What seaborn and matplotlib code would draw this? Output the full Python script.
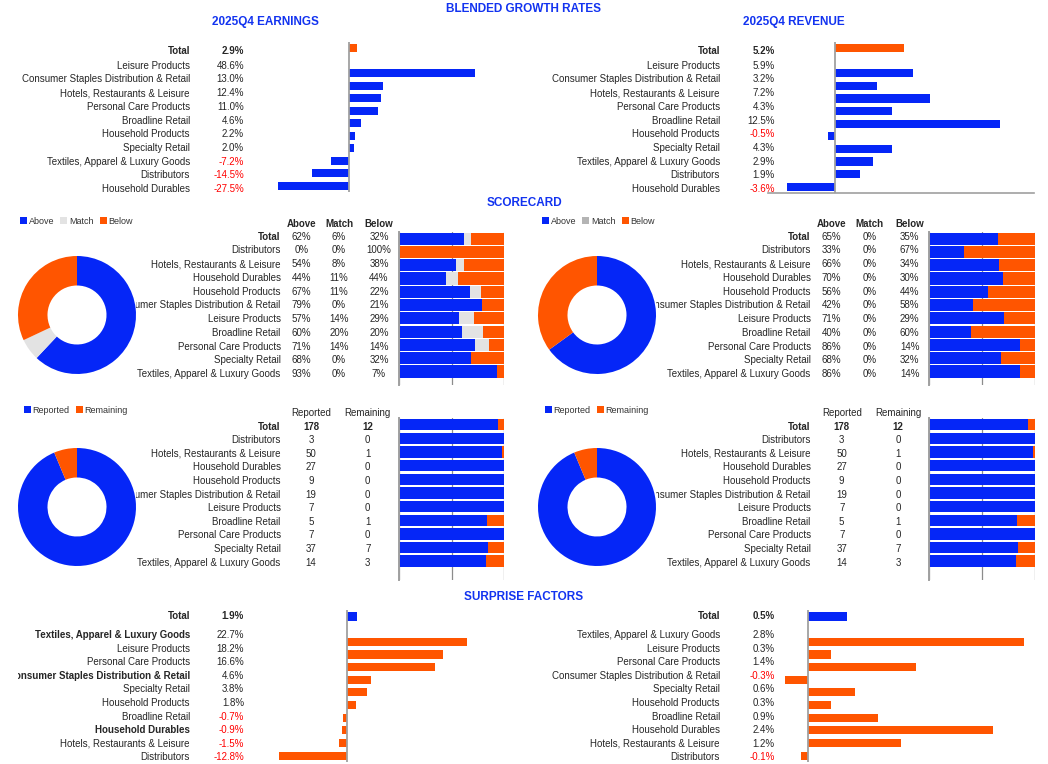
import matplotlib
matplotlib.use("Agg")
from matplotlib import pyplot as plt
from matplotlib.patches import Patch
from matplotlib.transforms import Bbox, TransformedBbox
import pandas as pd
import seaborn as sns

# ---- data ----
growth_names = ["Total", "Leisure Products", "Consumer Staples Distribution & Retail",
                "Hotels, Restaurants & Leisure", "Personal Care Products",
                "Broadline Retail", "Household Products", "Specialty Retail",
                "Textiles, Apparel & Luxury Goods", "Distributors", "Household Durables"]
earnings_growth = [2.9, 48.6, 13.0, 12.4, 11.0, 4.6, 2.2, 2.0, -7.2, -14.5, -27.5]
revenue_growth = [5.2, 5.9, 3.2, 7.2, 4.3, 12.5, -0.5, 4.3, 2.9, 1.9, -3.6]

score_names = ["Total", "Distributors", "Hotels, Restaurants & Leisure",
               "Household Durables", "Household Products",
               "Consumer Staples Distribution & Retail", "Leisure Products",
               "Broadline Retail", "Personal Care Products", "Specialty Retail",
               "Textiles, Apparel & Luxury Goods"]
eps_above = [62, 0, 54, 44, 67, 79, 57, 60, 71, 68, 93]
eps_match = [6, 0, 8, 11, 11, 0, 14, 20, 14, 0, 0]
eps_below = [32, 100, 38, 44, 22, 21, 29, 20, 14, 32, 7]
rev_above = [65, 33, 66, 70, 56, 42, 71, 40, 86, 68, 86]
rev_match = [0, 0, 0, 0, 0, 0, 0, 0, 0, 0, 0]
rev_below = [35, 67, 34, 30, 44, 58, 29, 60, 14, 32, 14]

reported = [178, 3, 50, 27, 9, 19, 7, 5, 7, 37, 14]
remaining = [12, 0, 1, 0, 0, 0, 0, 1, 0, 7, 3]

surprise_names = ["Total", "Textiles, Apparel & Luxury Goods", "Leisure Products",
                  "Personal Care Products", "Consumer Staples Distribution & Retail",
                  "Specialty Retail", "Household Products", "Broadline Retail",
                  "Household Durables", "Hotels, Restaurants & Leisure", "Distributors"]
eps_surprise = [1.9, 22.7, 18.2, 16.6, 4.6, 3.8, 1.8, -0.7, -0.9, -1.5, -12.8]
rev_surprise = [0.5, 2.8, 0.3, 1.4, -0.3, 0.6, 0.3, 0.9, 2.4, 1.2, -0.1]
eps_surprise_bold = ["Total", "Textiles, Apparel & Luxury Goods",
                     "Consumer Staples Distribution & Retail", "Household Durables"]

# ---- style ----
W, H = 1048, 764
BLUE = '#0526F7'
ORANGE = '#FF5500'
TITLE = '#1233F0'
TXT = '#262626'
RED = '#FF0000'
GRID = '#A0A0A0'

sns.set_style("white")
plt.rcParams['font.family'] = ['Liberation Sans', 'DejaVu Sans']
plt.rcParams['font.size'] = 7

fig = plt.figure(figsize=(W / 100, H / 100), dpi=100)


def add_box(x0, y0, x1, y1):
    # axes placed in pixel coordinates (y from the top)
    return fig.add_axes([x0 / W, 1 - y1 / H, (x1 - x0) / W, (y1 - y0) / H])


def put(x, y, s, clip_left=None, **kw):
    kw.setdefault('color', TXT)
    t = fig.text(x / W, 1 - y / H, s, va='center', **kw)
    if clip_left is not None:
        t.set_clip_box(TransformedBbox(Bbox.from_extents(clip_left / W, 0, 1, 1),
                                       fig.transFigure))
        t.set_clip_on(True)
    return t


def clean(ax):
    ax.set(xlabel='', ylabel='')
    ax.tick_params(length=0, labelbottom=False, labelleft=False)
    for s in ax.spines.values():
        s.set_visible(False)
    ax.patch.set_alpha(0)


def growth_panel(names, values, colors, lab_x, val_x, rows, box, zero_px, ppu,
                 bold=("Total",), bottom=False):
    for name, v, y in zip(names, values, rows):
        put(lab_x, y, name, ha='right', clip_left=18,
            weight='bold' if name in bold else 'normal')
        put(val_x, y, "{:.1f}%".format(v), ha='right',
            weight='bold' if name == "Total" else 'normal',
            color=RED if v < 0 else TXT)
    x0, y0, x1, y1 = box
    ax = add_box(x0, y0, x1, y1)
    df = pd.DataFrame({'sector': names, 'value': values})
    order = [names[0], ' '] + names[1:]
    sns.barplot(data=df, x='value', y='sector', hue='sector', order=order,
                palette=dict(zip(names, colors)), orient='h', width=0.64,
                saturation=1, errorbar=None, legend=False, linewidth=0, ax=ax)
    ax.set_xlim((x0 - zero_px) / ppu, (x1 - zero_px) / ppu)
    ax.set_ylim(len(order) - 0.5, -0.5)
    ax.axvline(0, color=GRID, lw=1.3)
    clean(ax)
    if bottom:
        ax.spines['bottom'].set_visible(True)
        ax.spines['bottom'].set_color(GRID)
        ax.spines['bottom'].set_linewidth(1.2)


def share_panel(names, cols, labels, colors, lab_x, col_x, head_y, rows, fmt,
                head_weight, total_weight, box, c0, step, bar_w, donut, legend_x):
    # table text
    for lab, cx in zip(labels, col_x):
        put(cx, head_y, lab, ha='center', weight=head_weight)
    for i, (name, y) in enumerate(zip(names, rows)):
        put(lab_x, y, name, ha='right', clip_left=donut[0] + donut[2],
            weight='bold' if name == "Total" else 'normal')
        for vals, cx in zip(cols, col_x):
            put(cx, y, fmt.format(vals[i]), ha='center',
                weight=total_weight if name == "Total" else 'normal')

    # stacked 100% bars
    df = pd.DataFrame(dict(zip(labels, cols)), index=names)
    pct = df.div(df.sum(axis=1), axis=0) * 100
    cum = pct.cumsum(axis=1)
    x0, x1, y1 = box
    ax = add_box(x0, c0 - step / 2, x1, y1)
    for lab, col in zip(labels[::-1], colors[::-1]):
        sns.barplot(x=cum[lab].values, y=names, order=names, orient='h',
                    color=col, width=bar_w, saturation=1, errorbar=None,
                    linewidth=0, ax=ax)
    ax.set_xlim(0, 100)
    ax.set_ylim((y1 - c0) / step, -0.5)
    ax.set_xticks([0, 50, 100])
    ax.set_axisbelow(True)
    ax.grid(axis='x', color='#8C8C8C', lw=0.9)
    clean(ax)
    ax.spines['left'].set_visible(True)
    ax.spines['left'].set_color(GRID)
    ax.spines['left'].set_linewidth(1.4)

    # donut of the Total row
    cx, cy, r = donut
    dax = add_box(cx - r, cy - r, cx + r, cy + r)
    dax.pie([c[0] for c in cols], colors=colors, startangle=90, counterclock=False,
            radius=1, wedgeprops=dict(width=0.5, linewidth=0))
    dax.set_xlim(-1, 1)
    dax.set_ylim(-1, 1)
    dax.axis('off')

    # legend
    handles = [Patch(facecolor=c, edgecolor='none') for c in colors]
    fig.legend(handles, labels, loc='center left',
               bbox_to_anchor=(legend_x / W, 1 - (head_y - 2.5) / H),
               ncol=len(labels), frameon=False, fontsize=6.5, labelcolor='#333333',
               handlelength=0.75, handleheight=0.75, handletextpad=0.2,
               columnspacing=0.7, borderaxespad=0, borderpad=0)


# ---- titles ----
put(524, 9, "BLENDED GROWTH RATES", ha='center', weight='bold', size=8.5, color=TITLE)
put(265, 22, "2025Q4 EARNINGS", ha='center', weight='bold', size=8.5, color=TITLE)
put(794, 22, "2025Q4 REVENUE", ha='center', weight='bold', size=8.5, color=TITLE)
put(524, 203, "SCORECARD", ha='center', weight='bold', size=8.5, color=TITLE)
put(524, 597, "SURPRISE FACTORS", ha='center', weight='bold', size=8.5, color=TITLE)

# ---- growth rates ----
top_rows = [50.7] + [65.7 + 13.7 * i for i in range(10)]
growth_colors = [ORANGE] + [BLUE] * 10
growth_panel(growth_names, earnings_growth, growth_colors, 190, 244, top_rows,
             (270, 41.75, 500, 191.75), 349.3, 2.58)
growth_panel(growth_names, revenue_growth, growth_colors, 720, 774.7, top_rows,
             (768, 41.75, 1034, 193), 835, 13.2, bottom=True)

# ---- scorecard ----
score_rows = [236.7 + 13.73 * i for i in range(11)]
share_panel(score_names, [eps_above, eps_match, eps_below], ["Above", "Match", "Below"],
            [BLUE, '#E3E3E3', ORANGE], 280.7, [301.7, 339, 379], 223.7, score_rows,
            "{}%", 'bold', 'normal', (399, 504.3, 385), 238.7, 13.28, 0.92,
            (77, 315, 59), 20)
share_panel(score_names, [rev_above, rev_match, rev_below], ["Above", "Match", "Below"],
            [BLUE, '#B4B4B4', ORANGE], 810.7, [831.3, 869.7, 909.7], 223.7, score_rows,
            "{}%", 'bold', 'normal', (929, 1034.7, 385), 238.7, 13.28, 0.92,
            (597, 315, 59), 542)

# ---- reporting progress ----
rep_rows = [426.7 + 13.6 * i for i in range(11)]
for lab_x, col_x, bar_x, donut, leg_x in [
        (280.7, [311, 367.7], (399, 504.3, 580), (77, 507, 59), 24),
        (810.7, [841.7, 898.3], (929, 1034.7, 580), (597, 507, 59), 545)]:
    share_panel(score_names, [reported, remaining], ["Reported", "Remaining"],
                [BLUE, ORANGE], lab_x, col_x, 412.7, rep_rows, "{}", 'normal', 'bold',
                bar_x, 424.7, 13.65, 0.84, donut, leg_x)

# ---- surprise factors ----
surp_rows = [615.7] + [635 + 13.6 * i for i in range(10)]
surp_colors = [BLUE] + [ORANGE] * 10
growth_panel(surprise_names, eps_surprise, surp_colors, 190, 244, surp_rows,
             (270, 610.2, 480, 762), 346.7, 5.3, bold=eps_surprise_bold)
growth_panel(surprise_names, rev_surprise, surp_colors, 720, 774.7, surp_rows,
             (770, 610.2, 1040, 762), 808.3, 77)

fig.savefig("out.png", dpi=100)
